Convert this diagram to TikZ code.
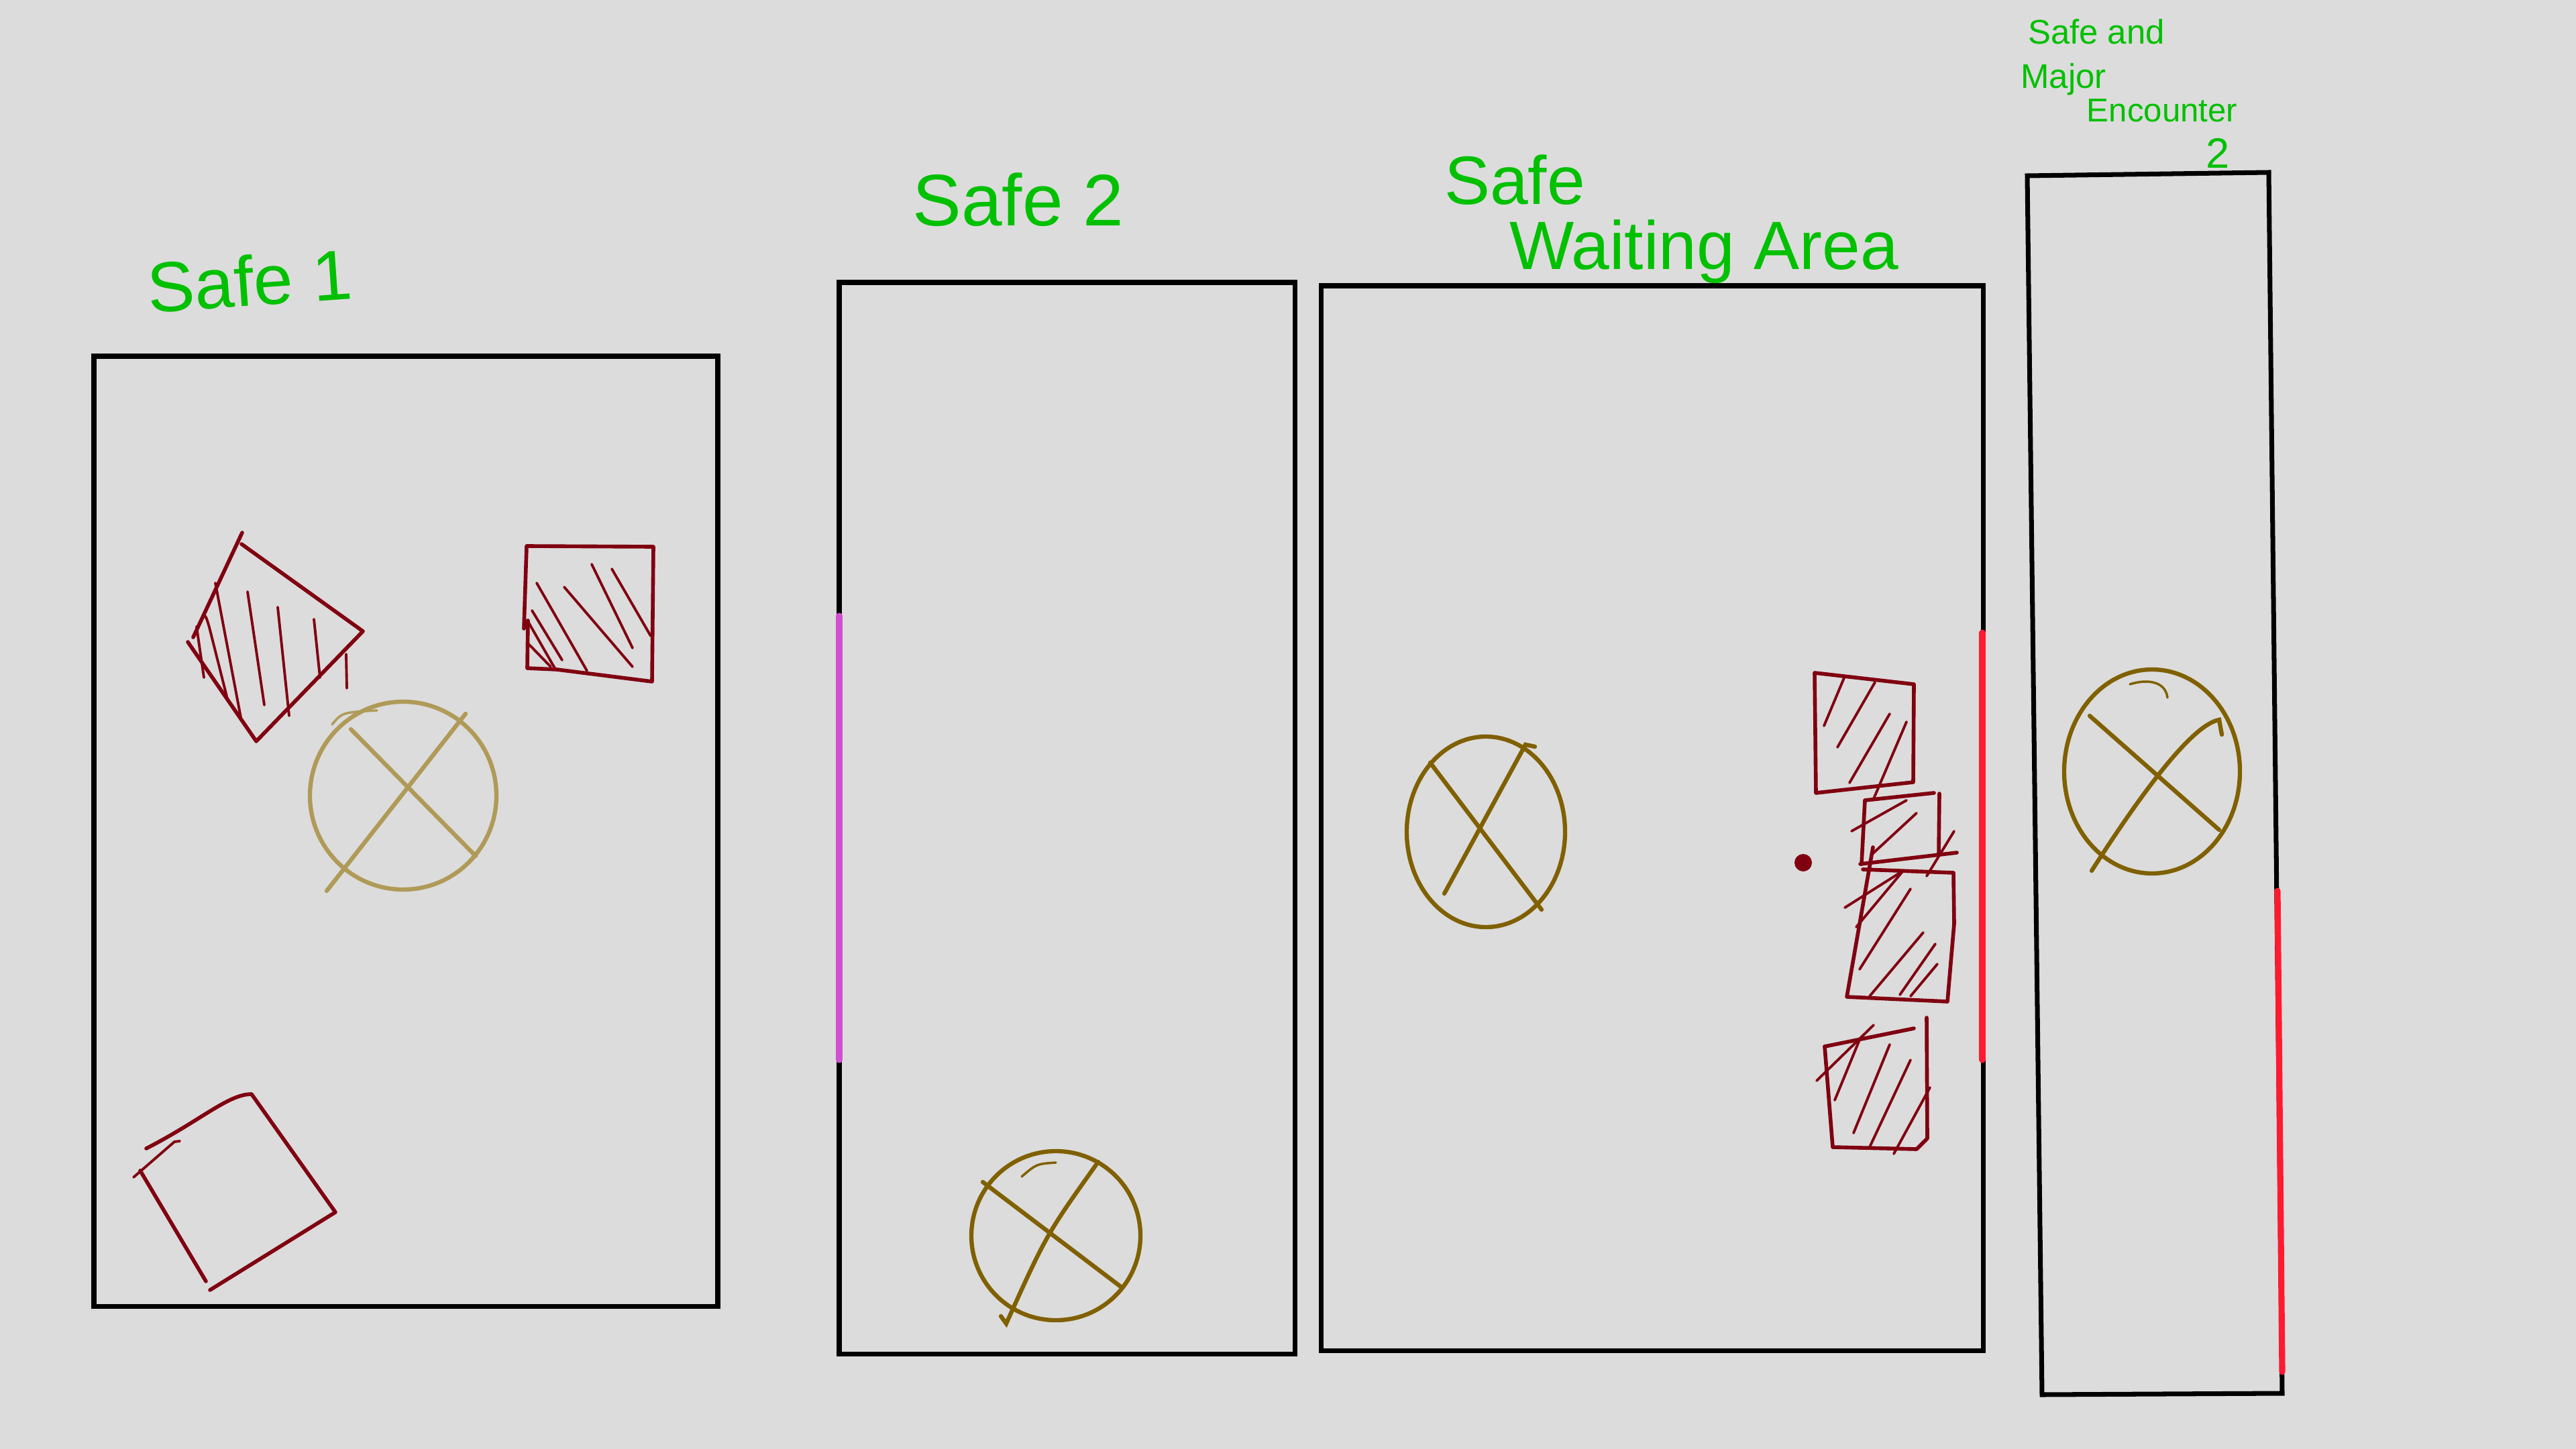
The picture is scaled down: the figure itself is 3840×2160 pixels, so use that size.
\documentclass[tikz,border=0pt]{standalone}
\usepackage{fontspec}
\setmainfont{Liberation Sans}
\usepackage{xcolor}
\usetikzlibrary{positioning}
\definecolor{paper}{HTML}{DCDCDC}
\definecolor{ink}{HTML}{00C000}
\definecolor{cratered}{HTML}{800010}
\definecolor{sand}{HTML}{B09A58}
\definecolor{bronze}{HTML}{806000}
\definecolor{doorpink}{HTML}{D050D0}
\definecolor{doorred}{HTML}{FF1A30}

\begin{document}
\begin{tikzpicture}[
  x=0.1mm,y=-0.1mm,
  wall/.style={draw=black,line width=2pt},
  door/.style={line width=2.6pt,line cap=round},
  boxline/.style={draw=cratered,line width=1.6pt,line join=round,line cap=round},
  hatch/.style={draw=cratered,line width=1.1pt,line cap=round},
  spawn/.style={line width=1.8pt,line cap=round},
  lbl/.style={text=ink,inner sep=0pt}
]
\fill[paper] (0,0) rectangle (3840,2160);
\useasboundingbox (0,0) rectangle (3840,2160);

% rooms
\draw[wall] (140,531) rectangle (1070,1947);
\draw[wall] (1251,421) rectangle (1930,2018);
\draw[wall] (1969,426) rectangle (2956,2013);
\draw[wall] (3022,262) -- (3382,257) -- (3402,2077) -- (3044,2079) -- cycle;

% doors
\draw[door,draw=doorpink] (1251,918) -- (1251,1580);
\draw[door,draw=doorred] (2955,943) -- (2955,1580);
\draw[door,draw=doorred] (3395,1328) -- (3402,2045);

% room 1: hatched diamond
\draw[boxline] (361,794) -- (288,950);
\draw[boxline] (360,811) -- (541,941) -- (382,1105) -- (280,957);
\draw[hatch] (293,934) -- (304,1010);
\draw[hatch] (300,925) .. controls (306,915) .. (312,935) -- (339,1042);
\draw[hatch] (321,869) -- (360,1075);
\draw[hatch] (369,882) -- (394,1051);
\draw[hatch] (414,905) -- (431,1067);
\draw[hatch] (468,923) -- (477,1010);
\draw[hatch] (516,975) -- (517,1026);

% room 1: hatched square
\draw[boxline] (781,937) -- (785,814) -- (974,815) -- (972,1016)
  -- (830,998) -- (786,996) -- (787,925);
\draw[hatch] (800,869) -- (875,1000);
\draw[hatch] (841,875) -- (943,994);
\draw[hatch] (882,841) -- (943,966);
\draw[hatch] (912,848) -- (970,948);
\draw[hatch] (793,910) -- (838,984);
\draw[hatch] (788,928) -- (827,996);
\draw[hatch] (788,960) -- (821,994);

% room 1: spawn
\draw[spawn,draw=sand] (601,1186) ellipse [x radius=139, y radius=140];
\draw[spawn,draw=sand] (523,1087) -- (709,1276);
\draw[spawn,draw=sand] (694,1064) -- (487,1328);
\draw[spawn,draw=sand,line width=1pt] (495,1080) .. controls (510,1062) .. (562,1059);

% room 1: empty diamond
\draw[boxline] (218,1712) .. controls (300,1670) and (340,1631) .. (375,1631)
  -- (500,1807) -- (313,1923);
\draw[boxline] (209,1745) -- (307,1910);
\draw[hatch] (199,1755) -- (260,1702) -- (268,1701);

% room 2: spawn
\draw[spawn,draw=bronze] (1574,1842) ellipse [x radius=126, y radius=126];
\draw[spawn,draw=bronze] (1465,1762) -- (1672,1919);
\draw[spawn,draw=bronze] (1637,1732) .. controls (1560,1840) .. (1500,1973) -- (1492,1962);
\draw[spawn,draw=bronze,line width=1pt] (1523,1754) .. controls (1545,1735) .. (1574,1733);

% room 3: spawn and marker
\draw[spawn,draw=bronze] (2215,1240) ellipse [x radius=118, y radius=142];
\draw[spawn,draw=bronze] (2132,1137) -- (2298,1356);
\draw[spawn,draw=bronze] (2153,1332) -- (2274,1110) -- (2288,1113);
\fill[cratered] (2688,1286) circle [radius=13];

% room 3: hatched crates
\draw[boxline] (2705,1003) -- (2853,1020) -- (2852,1166) -- (2707,1182) -- cycle;
\draw[hatch] (2719,1082) -- (2750,1008);
\draw[hatch] (2739,1114) -- (2795,1017);
\draw[hatch] (2757,1167) -- (2817,1064);
\draw[hatch] (2792,1193) -- (2842,1076);

\draw[boxline] (2775,1288) -- (2780,1193) -- (2883,1182);
\draw[boxline] (2891,1183) -- (2890,1274);
\draw[boxline] (2773,1288) -- (2917,1271);
\draw[hatch] (2760,1239) -- (2842,1193);
\draw[hatch] (2790,1274) -- (2857,1212);
\draw[hatch] (2872,1306) -- (2913,1239);
\draw[hatch] (2750,1353) -- (2837,1298);

\draw[boxline] (2777,1296) -- (2912,1301) -- (2913,1377) -- (2903,1493)
  -- (2753,1486) -- (2792,1263);
\draw[hatch] (2767,1382) -- (2837,1298);
\draw[hatch] (2772,1445) -- (2848,1325);
\draw[hatch] (2787,1485) -- (2867,1390);
\draw[hatch] (2832,1483) -- (2885,1407);
\draw[hatch] (2848,1485) -- (2888,1437);

\draw[boxline] (2720,1560) -- (2853,1533);
\draw[boxline] (2872,1517) -- (2873,1697) -- (2857,1713) -- (2732,1710) -- (2720,1560);
\draw[hatch] (2708,1611) -- (2793,1528);
\draw[hatch] (2735,1640) -- (2772,1550);
\draw[hatch] (2763,1689) -- (2817,1557);
\draw[hatch] (2787,1710) -- (2848,1580);
\draw[hatch] (2823,1720) -- (2877,1621);

% room 4: spawn
\draw[spawn,draw=bronze] (3208,1150) ellipse [x radius=131, y radius=152];
\draw[spawn,draw=bronze] (3115,1067) -- (3308,1237);
\draw[spawn,draw=bronze] (3118,1298) .. controls (3200,1170) and (3270,1080) .. (3308,1073) -- (3312,1095);
\draw[spawn,draw=bronze,line width=1pt] (3175,1020) .. controls (3200,1012) and (3228,1015) .. (3231,1040);

% labels
\node[lbl,font=\fontsize{30}{36}\selectfont,rotate=4] (safeone) at (372,418) {Safe 1};
\node[lbl,font=\fontsize{31}{37}\selectfont] (safetwo) at (1518,298) {Safe 2};
\node[lbl,font=\fontsize{29}{35}\selectfont] (waitsafe) at (2258,268) {Safe};
\node[lbl,font=\fontsize{29}{35}\selectfont] (waitarea) at (2540,375) {Waiting Area};
\node[lbl,font=\fontsize{14.5}{17}\selectfont] (majsafe) at (3125,47) {Safe and};
\node[lbl,font=\fontsize{14.5}{17}\selectfont] (majmajor) at (3076,118) {Major};
\node[lbl,font=\fontsize{14}{17}\selectfont] (majenc) at (3223,165) {Encounter};
\node[lbl,font=\fontsize{18}{22}\selectfont] (majtwo) at (3306,228) {2};
\end{tikzpicture}
\end{document}
